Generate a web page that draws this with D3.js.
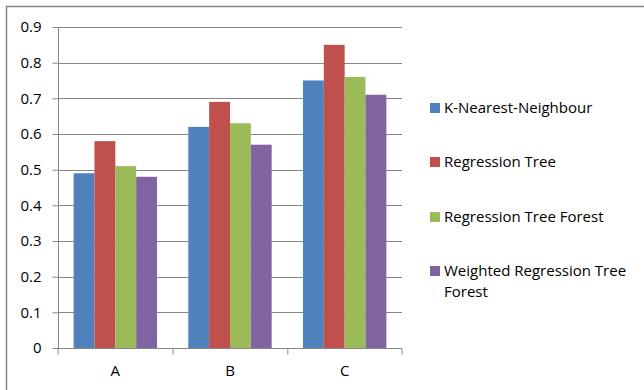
<!DOCTYPE html>
<html><head><meta charset="utf-8">
<script src="https://cdn.jsdelivr.net/npm/d3@7/dist/d3.min.js"></script>
<style>body{margin:0;background:#fff}svg{display:block}text{font-family:"Open Sans",sans-serif;fill:#000}</style>
</head><body><svg id="c" width="644" height="390"></svg>
<script>
const categories = ["A","B","C"];
const seriesNames = ["K-Nearest-Neighbour","Regression Tree","Regression Tree Forest","Weighted Regression Tree Forest"];
const seriesColors = ["#4f81bd","#c0504d","#9bbb59","#8064a2"];
const knn = [0.49,0.62,0.75];
const rtree = [0.58,0.69,0.85];
const rforest = [0.51,0.63,0.76];
const wforest = [0.48,0.57,0.71];
const yTicks = [0,0.1,0.2,0.3,0.4,0.5,0.6,0.7,0.8,0.9];
const seriesValues = [knn, rtree, rforest, wforest];

const svg = d3.select("#c");
svg.append("rect").attr("x",6.5).attr("y",6.5).attr("width",660).attr("height",400)
  .attr("fill","none").attr("stroke","#868686").attr("stroke-width",1.5);

const L=58, R=402, T=27, B=348;
const x = d3.scaleBand().domain(categories).range([L,R]).paddingInner(0).paddingOuter(0);
const y = d3.scaleLinear().domain([0,0.9]).range([B,T]);
const inner = d3.scaleBand().domain(d3.range(4)).range([0, x.bandwidth()]).paddingInner(0).paddingOuter(0.75);

// gridlines
svg.append("g").selectAll("line").data(yTicks.filter(d=>d>0)).join("line")
  .attr("x1",L).attr("x2",R).attr("y1",d=>Math.round(y(d))+0.5).attr("y2",d=>Math.round(y(d))+0.5)
  .attr("stroke","#868686").attr("stroke-width",1);

// bars
const g = svg.append("g");
categories.forEach((c,ci)=>{
  seriesValues.forEach((vals,si)=>{
    g.append("rect").attr("x",x(c)+inner(si)).attr("width",inner.bandwidth())
      .attr("y",y(vals[ci])).attr("height",y(0)-y(vals[ci])).attr("fill",seriesColors[si]);
  });
});

// y axis
const ya = svg.append("g").attr("transform",`translate(${L+0.5},0)`)
  .call(d3.axisLeft(y).tickValues(yTicks).tickFormat(d=>d===0?"0":d3.format(".1f")(d)).tickSize(6).tickPadding(11));
ya.select(".domain").attr("stroke","#868686").attr("d",`M0,${T}V${B}`);
ya.selectAll(".tick line").attr("stroke","#868686");
ya.selectAll(".tick text").attr("font-size",15).attr("font-family","'Open Sans',sans-serif").attr("fill","#000");

// x axis
const xa = svg.append("g").attr("transform",`translate(0,${B+0.5})`)
  .call(d3.axisBottom(x).tickSize(0).tickPadding(17));
xa.select(".domain").attr("stroke","#868686").attr("d",`M${L},6V0H${R}V6`);
xa.selectAll(".tick text").attr("font-size",15).attr("font-family","'Open Sans',sans-serif").attr("fill","#000");
xa.selectAll(".sep").data(x.domain().slice(1)).join("line").attr("class","sep")
  .attr("x1",d=>x(d)+0.5).attr("x2",d=>x(d)+0.5).attr("y1",0).attr("y2",6).attr("stroke","#868686");

// legend
const legY = [108,162,217,271];
const lg = svg.append("g");
seriesNames.forEach((n,i)=>{
  lg.append("rect").attr("x",430).attr("y",legY[i]-5).attr("width",10).attr("height",10).attr("fill",seriesColors[i]);
  const t = lg.append("text").attr("x",444).attr("y",legY[i]+5).attr("font-size",15);
  if(i===3){
    t.append("tspan").attr("x",444).text("Weighted Regression Tree");
    t.append("tspan").attr("x",444).attr("dy",21).text("Forest");
  } else t.text(n);
});
</script></body></html>
